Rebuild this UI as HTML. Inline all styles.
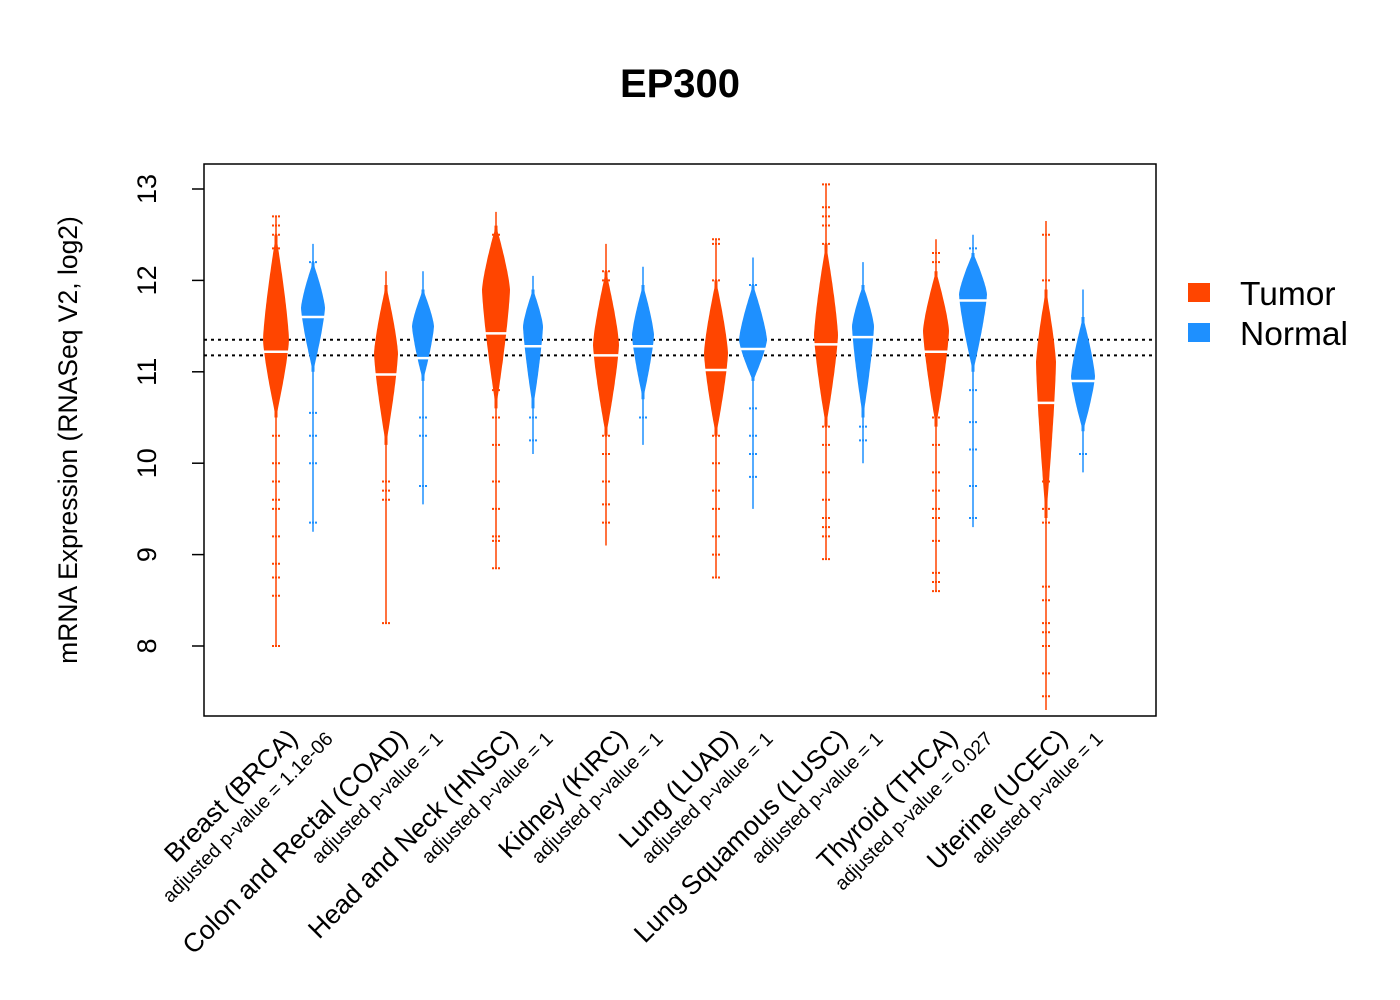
<!DOCTYPE html>
<html><head><meta charset="utf-8">
<style>
html,body{margin:0;padding:0;background:#fff;}
svg{display:block;font-family:"Liberation Sans",Arial,sans-serif;}
</style></head>
<body>
<svg id="chart" width="1400" height="1000" viewBox="0 0 1400 1000" xmlns="http://www.w3.org/2000/svg">
<rect x="0" y="0" width="1400" height="1000" fill="#fff"/>
<text x="680" y="97" text-anchor="middle" font-size="40" font-weight="bold">EP300</text>
<rect x="204" y="164" width="952" height="552" fill="none" stroke="#000" stroke-width="1.5"/>
<text transform="translate(77,440) rotate(-90)" text-anchor="middle" font-size="26.5">mRNA Expression (RNASeq V2, log2)</text>
<g id="yaxis"></g>
<g id="refs"></g>
<g id="violins"></g>
<g id="xlabels"></g>
<g>
  <rect x="1188" y="283" width="22" height="19" fill="#FF4500"/>
  <text x="1240" y="305" font-size="33.5">Tumor</text>
  <rect x="1188" y="323" width="22" height="19" fill="#1E90FF"/>
  <text x="1240" y="345" font-size="33.5">Normal</text>
</g>
</svg>
<script>
const categories = ["Breast (BRCA)","Colon and Rectal (COAD)","Head and Neck (HNSC)","Kidney (KIRC)","Lung (LUAD)","Lung Squamous (LUSC)","Thyroid (THCA)","Uterine (UCEC)"];
const pvalues = ["adjusted p-value = 1.1e-06","adjusted p-value = 1","adjusted p-value = 1","adjusted p-value = 1","adjusted p-value = 1","adjusted p-value = 1","adjusted p-value = 0.027","adjusted p-value = 1"];
const yTicks = [8,9,10,11,12,13];
const refLines = [11.35, 11.18];
// tumor series
const tumorMin = [8.0, 8.25, 8.85, 9.1, 8.75, 8.95, 8.6, 7.3];
const tumorMax = [12.7, 12.1, 12.75, 12.4, 12.45, 13.05, 12.45, 12.65];
const tumorBodyTop = [12.5, 11.95, 12.6, 12.1, 12.0, 12.4, 12.1, 11.9];
const tumorBodyBot = [10.5, 10.2, 10.6, 10.3, 10.3, 10.4, 10.4, 9.4];
const tumorPeak = [11.35, 11.2, 11.9, 11.3, 11.2, 11.4, 11.45, 11.1];
const tumorDensity = [13, 12, 14, 13, 12, 12, 13, 10];
const tumorMedian = [11.22, 10.97, 11.42, 11.18, 11.02, 11.3, 11.22, 10.66];
const tumorOutliers = [[12.7,12.6,12.5,12.35,10.3,10.0,9.8,9.6,9.5,9.2,8.9,8.75,8.55,8.0],[9.8,9.7,9.6,8.25],[12.5,12.4,10.8,10.5,10.2,9.8,9.5,9.2,9.15,8.85],[12.1,12.0,10.3,10.1,9.8,9.55,9.35],[12.45,12.4,12.0,10.3,10.0,9.7,9.5,9.2,9.0,8.75],[13.05,12.8,12.7,12.6,12.4,10.4,10.2,9.9,9.6,9.4,9.3,9.2,8.95],[12.3,12.2,10.5,10.2,9.9,9.7,9.5,9.4,9.15,8.8,8.7,8.6],[12.5,12.0,9.8,9.5,9.35,8.65,8.5,8.25,8.15,8.0,7.7,7.45]];
// normal series
const normalMin = [9.25, 9.55, 10.1, 10.2, 9.5, 10.0, 9.3, 9.9];
const normalMax = [12.4, 12.1, 12.05, 12.15, 12.25, 12.2, 12.5, 11.9];
const normalBodyTop = [12.2, 11.9, 11.9, 11.95, 11.95, 11.95, 12.3, 11.6];
const normalBodyBot = [11.0, 10.9, 10.6, 10.7, 10.9, 10.5, 11.0, 10.35];
const normalPeak = [11.7, 11.5, 11.5, 11.4, 11.35, 11.5, 11.85, 10.95];
const normalDensity = [12, 11, 10, 11, 14, 11, 14, 12];
const normalMedian = [11.6, 11.15, 11.28, 11.28, 11.25, 11.38, 11.78, 10.9];
const normalOutliers = [[12.2,10.55,10.3,10.0,9.35],[10.5,10.3,9.75],[10.5,10.25],[10.5],[11.95,10.6,10.3,10.1,9.85],[10.4,10.25],[12.35,10.8,10.45,10.15,9.75,9.4],[11.35,10.1]];

const NS = "http://www.w3.org/2000/svg";
function yScale(v){ return 646 - (v - 8) * 91.4; }
function xTumor(i){ return 276 + i * 110; }
function xNormal(i){ return 313 + i * 110; }
function mk(tag, attrs, parent){ const e = document.createElementNS(NS, tag); for (const k in attrs) e.setAttribute(k, attrs[k]); parent.appendChild(e); return e; }

const yaxis = document.getElementById('yaxis');
yTicks.forEach(t => {
  const y = yScale(t);
  const ln = mk('line', {x1:192, x2:204, y1:y, y2:y, stroke:'#000', 'stroke-width':1.5}, yaxis);
  
  
  const tx = mk('text', {transform:`translate(156,${y}) rotate(-90)`, 'text-anchor':'middle', 'font-size':27}, yaxis);
  tx.textContent = t;
  
  
});

const refs = document.getElementById('refs');
refLines.forEach((v, k) => {
  const y = yScale(v);
  const ln = mk('line', {x1:204, x2:1156, y1:y, y2:y, stroke:'#000', 'stroke-width':2, 'stroke-dasharray':'3,4'}, refs);
  
  
});

const vg = document.getElementById('violins');
function drawViolin(cx, mn, mx, top, bot, peak, dens, med, outs, color, name){
  const g = mk('g', {}, vg);
  
  
  const l = mk('line', {x1:cx, x2:cx, y1:yScale(mx), y2:yScale(mn), stroke:color, 'stroke-width':1.5}, g);
  
  
  const steps = 60, ptsR = [], ptsL = [];
  for (let s = 0; s <= steps; s++){
    const v = top - (top - bot) * s / steps;
    let w;
    if (v >= peak){ const f = (v - peak) / (top - peak); w = dens * Math.max(0, 1 - Math.pow(f, 1.3)); }
    else { const f = (peak - v) / (peak - bot); w = dens * Math.max(0, 1 - Math.pow(f, 1.3)); }
    w = Math.max(w, 1.5);
    ptsR.push((cx + w).toFixed(1) + ',' + yScale(v).toFixed(1));
    ptsL.unshift((cx - w).toFixed(1) + ',' + yScale(v).toFixed(1));
  }
  const p = mk('polygon', {points: ptsR.concat(ptsL).join(' '), fill:color}, g);
  
  
  outs.forEach(o => {
    const y = yScale(o);
    const t = mk('line', {x1:cx - 4, x2:cx + 4, y1:y, y2:y, stroke:color, 'stroke-width':2, 'stroke-dasharray':'2,1'}, g);
    
    
  });
  const my = yScale(med);
  const m = mk('line', {x1:cx - dens - 2, x2:cx + dens + 2, y1:my, y2:my, stroke:'#fff', 'stroke-width':2.5}, g);
  
  
}
categories.forEach((c, i) => {
  drawViolin(xTumor(i), tumorMin[i], tumorMax[i], tumorBodyTop[i], tumorBodyBot[i], tumorPeak[i], tumorDensity[i], tumorMedian[i], tumorOutliers[i], '#FF4500', 'tumor-violin-' + (i + 1));
  drawViolin(xNormal(i), normalMin[i], normalMax[i], normalBodyTop[i], normalBodyBot[i], normalPeak[i], normalDensity[i], normalMedian[i], normalOutliers[i], '#1E90FF', 'normal-violin-' + (i + 1));
});

const xl = document.getElementById('xlabels');
categories.forEach((c, i) => {
  const t = mk('text', {transform:`translate(${299 + i * 110},740) rotate(-45)`, 'text-anchor':'end', 'font-size':26.5}, xl);
  t.textContent = c;
  
  
  const p = mk('text', {transform:`translate(${334 + i * 110},740) rotate(-45)`, 'text-anchor':'end', 'font-size':19.5}, xl);
  p.textContent = pvalues[i];
  
  
});
</script>
</body></html>
